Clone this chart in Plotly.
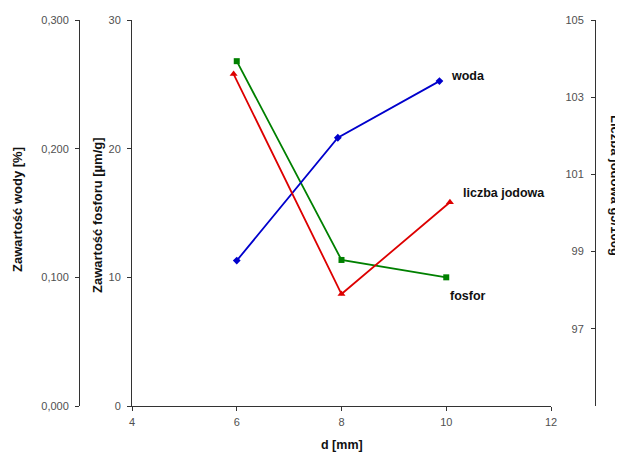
import plotly.graph_objects as go

# Data
woda_x = [6.0, 7.93, 9.87]
woda_y = [0.113, 0.2085, 0.2525]
fosfor_x = [6.0, 8.0, 10.0]
fosfor_y = [26.8, 11.35, 10.0]
jod_x = [5.94, 8.0, 10.07]
jod_y = [103.6, 97.9, 100.28]

OFF = 8  # page body margin
W, H = 623 - OFF, 453 - OFF
def fx(p): return (p - OFF) / W
def fy(p): return 1 - (p - OFF) / H

tickfont = dict(family="Liberation Sans, Arial", size=11, color="#505050")

fig = go.Figure()
fig.add_trace(go.Scatter(x=fosfor_x, y=fosfor_y, mode="lines+markers", name="fosfor",
                         line=dict(color="#008000", width=1.8),
                         marker=dict(symbol="square", size=6, color="#008000"),
                         xaxis="x", yaxis="y"))
fig.add_trace(go.Scatter(x=woda_x, y=woda_y, mode="lines+markers", name="woda",
                         line=dict(color="#0000cc", width=1.8),
                         marker=dict(symbol="diamond", size=6, color="#0000cc"),
                         xaxis="x", yaxis="y2"))
fig.add_trace(go.Scatter(x=jod_x, y=jod_y, mode="lines+markers", name="liczba jodowa",
                         line=dict(color="#dd0000", width=1.8),
                         marker=dict(symbol="triangle-up", size=7, color="#dd0000"),
                         xaxis="x", yaxis="y3"))

ydom = [fy(406), fy(20)]
common = dict(showgrid=False, zeroline=False, showline=True, linecolor="#333", linewidth=1,
              ticks="outside", ticklen=4, tickcolor="#333", tickfont=tickfont, automargin=False)
fig.update_layout(
    width=W, height=H,
    margin=dict(l=0, r=0, t=0, b=0, pad=0),
    paper_bgcolor="white", plot_bgcolor="white",
    separators=", ",
    showlegend=False,
    xaxis=dict(domain=[fx(132), fx(551)], range=[4, 12], tickvals=[4, 6, 8, 10, 12],
               anchor="y", ticklabelstandoff=2, **common),
    yaxis=dict(domain=ydom, range=[0, 30], tickvals=[0, 10, 20, 30],
               anchor="x", ticklabelstandoff=4, **common),
    yaxis2=dict(range=[0, 0.3], tickvals=[0, 0.1, 0.2, 0.3], tickformat=".3f",
                overlaying="y", side="left", anchor="free", position=fx(79),
                ticklabelstandoff=4, **common),
    yaxis3=dict(range=[95, 105], tickvals=[97, 99, 101, 103, 105],
                overlaying="y", side="left", anchor="free", position=fx(595),
                ticklabelstandoff=5, **common),
)

title_font = dict(family="Liberation Sans, Arial", size=13, color="#111")
label_font = dict(family="Liberation Sans, Arial", size=12.5, color="#111")
ann = [
    dict(x=fx(18), y=fy(210), text="<b>Zawartość wody [%]</b>", textangle=-90, font=title_font),
    dict(x=fx(97), y=fy(215), text="<b>Zawartość fosforu [µm/g]</b>", textangle=-90, font=title_font),
    dict(x=fx(616), y=fy(185), text="<b>Liczba jodowa gJ/100g</b>", textangle=90, font=title_font),
    dict(x=fx(342), y=fy(445), text="<b>d [mm]</b>", textangle=0, font=label_font),
    dict(x=fx(468), y=fy(76), text="<b>woda</b>", textangle=0, font=label_font),
    dict(x=fx(504), y=fy(193), text="<b>liczba jodowa</b>", textangle=0, font=label_font),
    dict(x=fx(468), y=fy(296), text="<b>fosfor</b>", textangle=0, font=label_font),
]
for a in ann:
    fig.add_annotation(xref="paper", yref="paper", showarrow=False,
                       xanchor="center", yanchor="middle", **a)

fig.write_html("out.html")
